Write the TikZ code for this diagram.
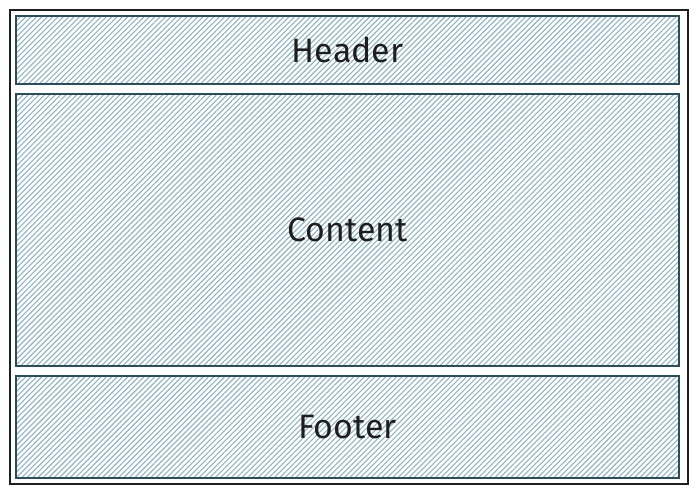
\documentclass[tikz,border=0pt]{standalone}
\usepackage{fontspec}
\setmainfont{Fira Sans}
\usetikzlibrary{patterns.meta}
\definecolor{hatch}{HTML}{8FB3C2}
\definecolor{edge}{HTML}{2E4D5A}
\definecolor{frame}{HTML}{1E1E1E}
\tikzset{
  part/.style = {draw=edge, line width=1.1bp, minimum width=663bp, inner sep=0pt,
    pattern={Lines[angle=45, distance=3.8bp, line width=1.1bp]}, pattern color=hatch,
    font=\fontsize{34}{38}\selectfont, text=frame}
}
\begin{document}
\begin{tikzpicture}[x=1bp, y=-1bp]
      \useasboundingbox (0, 0) rectangle (697, 494);
      \draw [color=frame, line width=1.4bp] (10, 10) rectangle (688, 484);
      \node [part, minimum height=68bp] (header) at (347.5, 50) {Header};
      \node [part, minimum height=272bp] (content) at (347.5, 230) {Content};
      \node [part, minimum height=102bp] (footer) at (347.5, 427) {Footer};
    \end{tikzpicture}
\end{document}
